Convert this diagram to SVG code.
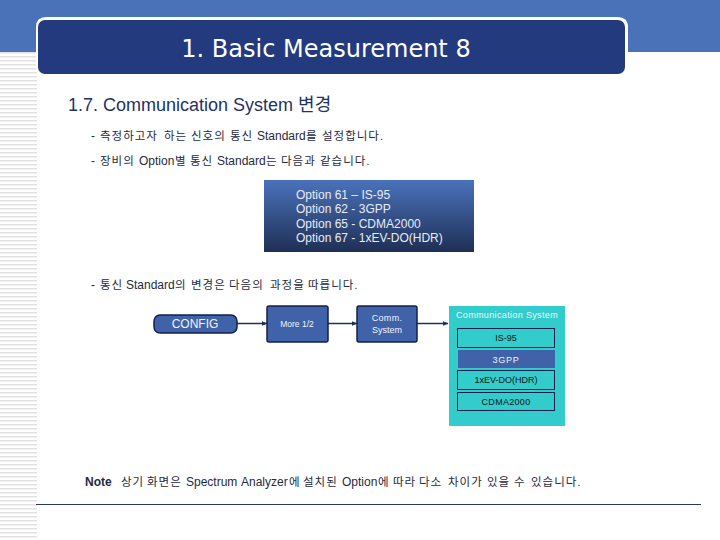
<svg xmlns="http://www.w3.org/2000/svg" width="720" height="540" viewBox="0 0 720 540">
<defs>
<style>
text{font-family:"Liberation Sans","Noto Sans CJK KR",sans-serif}
.body{font-size:12px;fill:#1f2a44}
.ko{font-size:11.500px;letter-spacing:1px}
.opt{font-size:12px;fill:#e8ecf4}
.box{fill:#3f62a8;stroke:#14204a;stroke-width:1.5}
.wh{fill:#f2f4f8;text-anchor:middle}
.sub{fill:#33cccc;stroke:#14204a;stroke-width:1}
.subt{font-size:9px;fill:#111;text-anchor:middle}
.conn{stroke:#1f2f5f;stroke-width:1.500;fill:none;marker-end:url(#arr)}
</style>
<pattern id="stripes" width="4" height="4" patternUnits="userSpaceOnUse"><rect width="4" height="4" fill="#fff"/><rect width="4" height="1.500" fill="#e2e2e2"/></pattern>
<linearGradient id="optg" x1="0" y1="0" x2="0" y2="1"><stop offset="0" stop-color="#4a72bb"/><stop offset="1" stop-color="#1f2f55"/></linearGradient>
<marker id="arr" markerWidth="6" markerHeight="6" refX="5.500" refY="3" orient="auto" markerUnits="userSpaceOnUse"><path d="M0 0.500L6 3L0 5.500Z" fill="#1f2f5f"/></marker>
</defs>
<rect width="720" height="540" fill="#fff"/>
<rect x="0" y="0" width="720" height="52" fill="#4a72b8"/>
<rect x="0" y="52" width="37" height="488" fill="url(#stripes)"/>
<g id="title">
<path d="M36 72V27Q36 17 46 17H617Q628 17 628 27V72H36Z" fill="#fff"/>
<rect x="38" y="20" width="587" height="54" rx="7" fill="#233a7e"/>
<text x="326" y="56.500" text-anchor="middle" font-size="24" fill="#fff" style="font-family:'DejaVu Sans',sans-serif">1. Basic Measurement 8</text>
</g>
<text x="68" y="110.500" font-size="18" fill="#1f3264">1.7. Communication System 변경</text>
<text y="140" class="body"><tspan x="91">-</tspan><tspan x="100" class="ko">측정하고자</tspan><tspan x="164" class="ko">하는</tspan><tspan x="191" class="ko">신호의</tspan><tspan x="230" class="ko">통신</tspan><tspan x="257">Standard</tspan><tspan x="306" class="ko">를</tspan><tspan x="322" class="ko">설정합니다.</tspan></text>
<text y="165" class="body"><tspan x="91">-</tspan><tspan x="100" class="ko">장비의</tspan><tspan x="139">Option</tspan><tspan x="175" class="ko">별</tspan><tspan x="190" class="ko">통신</tspan><tspan x="217">Standard</tspan><tspan x="266" class="ko">는</tspan><tspan x="281" class="ko">다음과</tspan><tspan x="320" class="ko">같습니다.</tspan></text>
<g id="options">
<rect x="264" y="180" width="210" height="72" fill="url(#optg)"/>
<text x="296" y="199" class="opt">Option 61 – IS-95</text>
<text x="296" y="213" class="opt">Option 62 - 3GPP</text>
<text x="296" y="228" class="opt">Option 65 - CDMA2000</text>
<text x="296" y="242" class="opt">Option 67 - 1xEV-DO(HDR)</text>
</g>
<text y="289" class="body"><tspan x="91">-</tspan><tspan x="100" class="ko">통신</tspan><tspan x="126">Standard</tspan><tspan x="175" class="ko">의</tspan><tspan x="191" class="ko">변경은</tspan><tspan x="229" class="ko">다음의</tspan><tspan x="270" class="ko">과정을</tspan><tspan x="308" class="ko">따릅니다.</tspan></text>
<g id="connectors">
<line x1="237" y1="323.500" x2="267" y2="323.500" class="conn"/>
<line x1="328" y1="323.500" x2="357" y2="323.500" class="conn"/>
<line x1="417" y1="323.500" x2="448" y2="323.500" class="conn"/>
</g>
<g id="config"><rect x="154" y="315" width="83" height="18" rx="6" class="box"/><text x="195" y="328" font-size="12" class="wh">CONFIG</text></g>
<g id="more"><rect x="267" y="306" width="61" height="36" rx="2" class="box"/><text x="297" y="327" font-size="8.500" class="wh">More 1/2</text></g>
<g id="comm"><rect x="357" y="306" width="60" height="36" rx="2" class="box"/><text x="387" y="321" font-size="9" class="wh" letter-spacing="0.300">Comm.</text><text x="387" y="333" font-size="9" class="wh">System</text></g>
<g id="commsys">
<rect x="449" y="306" width="116" height="120" fill="#33cccc"/>
<text x="507" y="318" font-size="9" class="wh" letter-spacing="0.350">Communication System</text>
<rect x="457.500" y="328.500" width="97" height="19" class="sub"/><text x="506" y="341" class="subt">IS-95</text>
<rect x="458" y="350" width="97" height="18" fill="#3f62a8"/><text x="506" y="363" font-size="9" class="wh" letter-spacing="0.800">3GPP</text>
<rect x="457.500" y="370.500" width="97" height="19" class="sub"/><text x="506" y="383" class="subt">1xEV-DO(HDR)</text>
<rect x="457.500" y="392.500" width="97" height="18" class="sub"/><text x="506" y="405" class="subt" letter-spacing="0.300">CDMA2000</text>
</g>
<text y="486" class="body"><tspan x="85" font-weight="bold">Note</tspan><tspan x="121" class="ko">상기</tspan><tspan x="147" class="ko">화면은</tspan><tspan x="186">Spectrum</tspan><tspan x="241">Analyzer</tspan><tspan x="289" class="ko">에</tspan><tspan x="303" class="ko">설치된</tspan><tspan x="342">Option</tspan><tspan x="378" class="ko">에</tspan><tspan x="393" class="ko">따라</tspan><tspan x="419" class="ko">다소</tspan><tspan x="448" class="ko">차이가</tspan><tspan x="487" class="ko">있을</tspan><tspan x="514" class="ko">수</tspan><tspan x="531" class="ko">있습니다.</tspan></text>
<line x1="36" y1="504.500" x2="701" y2="504.500" stroke="#2a3a5a" stroke-width="1"/>
</svg>
